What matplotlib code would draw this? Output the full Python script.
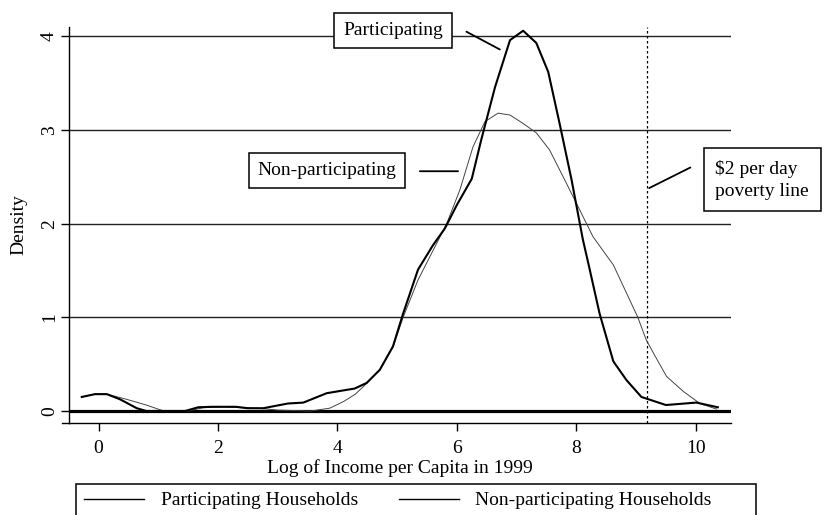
import matplotlib
matplotlib.use('Agg')
import matplotlib.pyplot as plt
from matplotlib.lines import Line2D
from matplotlib.patches import Rectangle

plt.rcParams['font.family'] = ['Liberation Serif', 'DejaVu Serif']

# density of log income, participating households
part_x = [-0.28, -0.06, 0.14, 0.36, 0.64, 0.80, 1.45, 1.67, 1.90, 2.30, 2.50, 2.76,
          3.17, 3.43, 3.82, 4.10, 4.29, 4.49, 4.71, 4.93, 5.10, 5.35, 5.60, 5.80,
          6.00, 6.25, 6.41, 6.64, 6.89, 7.11, 7.33, 7.53, 7.72, 7.92, 8.11, 8.20,
          8.39, 8.62, 8.84, 9.09, 9.50, 10.01, 10.37]
part_y = [0.15, 0.18, 0.18, 0.125, 0.03, 0.0, 0.0, 0.04, 0.045, 0.045, 0.03, 0.03,
          0.08, 0.09, 0.19, 0.22, 0.24, 0.30, 0.44, 0.69, 1.04, 1.51, 1.77, 1.95,
          2.20, 2.48, 2.90, 3.46, 3.96, 4.06, 3.93, 3.62, 3.07, 2.47, 1.83, 1.58,
          1.04, 0.53, 0.33, 0.15, 0.064, 0.09, 0.04]

# density of log income, non-participating households
nonp_x = [-0.28, -0.06, 0.14, 0.47, 0.80, 1.00, 1.10, 1.50, 1.75, 2.08, 2.75, 3.00,
          3.55, 3.87, 4.10, 4.30, 4.50, 4.71, 4.93, 5.10, 5.35, 5.55, 5.83, 6.05,
          6.27, 6.47, 6.69, 6.89, 7.11, 7.33, 7.55, 7.78, 8.00, 8.28, 8.62, 8.84,
          9.03, 9.17, 9.29, 9.51, 9.79, 10.07, 10.35]
nonp_y = [0.15, 0.18, 0.18, 0.125, 0.064, 0.02, 0.0, 0.0, 0.035, 0.045, 0.025, 0.01,
          0.0, 0.03, 0.10, 0.18, 0.30, 0.44, 0.68, 1.00, 1.40, 1.65, 2.00, 2.36,
          2.82, 3.09, 3.18, 3.16, 3.07, 2.97, 2.79, 2.50, 2.22, 1.86, 1.56, 1.26,
          1.00, 0.76, 0.62, 0.37, 0.21, 0.08, 0.02]

poverty_line = 9.18
x_ticks = [0, 2, 4, 6, 8, 10]
y_ticks = [0, 1, 2, 3, 4]
legend_labels = ['Participating Households', 'Non-participating Households']

fig = plt.figure(figsize=(8.25, 5.15), dpi=100)
ax = fig.add_axes([69/825, 1 - 423/515, 662/825, 396/515])

for yv in y_ticks[1:]:
    ax.axhline(yv, color='#222222', lw=1.0, zorder=1)
ax.axhline(0, color='black', lw=2.3, zorder=2)
ax.axvline(poverty_line, color='black', lw=0.9, ls=(0, (2, 2)), zorder=2)

ax.plot(nonp_x, nonp_y, color='#444444', lw=0.7, zorder=3)
ax.plot(part_x, part_y, color='black', lw=1.5, zorder=4)

ax.set_xlim(-0.494, 10.59)
ax.set_ylim(-0.128, 4.10)
ax.set_xticks(x_ticks)
ax.set_yticks(y_ticks)
ax.set_yticklabels([str(v) for v in y_ticks], rotation=90, va='center')
ax.tick_params(axis='both', labelsize=14, length=6, width=1.0, color='black')
ax.tick_params(axis='y', pad=2)
ax.tick_params(axis='x', pad=6)
for s in ['top', 'right']:
    ax.spines[s].set_visible(False)
for s in ['left', 'bottom']:
    ax.spines[s].set_linewidth(1.0)
ax.plot([-0.011, 0], [0, 0], color='black', lw=1.0, transform=ax.transAxes, clip_on=False)

ax.set_xlabel('Log of Income per Capita in 1999', fontsize=14, labelpad=2)
ax.set_ylabel('Density', fontsize=14, labelpad=10)

# boxed annotations with connector lines
ax.text(4.93, 4.06, 'Participating', fontsize=14, ha='center', va='center',
        bbox=dict(boxstyle='square,pad=0.45', fc='white', ec='black', lw=1.1), zorder=5)
ax.annotate('', xy=(6.72, 3.86), xytext=(6.16, 4.05),
            arrowprops=dict(arrowstyle='-', color='black', lw=1.3, shrinkA=0, shrinkB=0))

ax.text(3.83, 2.57, 'Non-participating', fontsize=14, ha='center', va='center',
        bbox=dict(boxstyle='square,pad=0.45', fc='white', ec='black', lw=1.1), zorder=5)
ax.annotate('', xy=(6.02, 2.56), xytext=(5.38, 2.56),
            arrowprops=dict(arrowstyle='-', color='black', lw=1.3, shrinkA=0, shrinkB=0))

ax.text(10.33, 2.47, '$2 per day\npoverty line', fontsize=14, ha='left', va='center',
        linespacing=1.4, clip_on=False,
        bbox=dict(boxstyle='square,pad=0.6', fc='white', ec='black', lw=1.1), zorder=5)
ax.annotate('', xy=(9.22, 2.38), xytext=(9.91, 2.60),
            arrowprops=dict(arrowstyle='-', color='black', lw=1.3, shrinkA=0, shrinkB=0))

handles = [Line2D([], [], color='black', lw=1.0), Line2D([], [], color='black', lw=1.0)]
fig.legend(handles, legend_labels, ncol=2, loc='upper left',
           bbox_to_anchor=(76/825, 1 - 484/515), frameon=False, fontsize=14,
           borderaxespad=0, borderpad=0.4, handlelength=3.1, handletextpad=0.85,
           columnspacing=2.1)
fig.patches.append(Rectangle((76/825, -0.05), 680/825, (515 - 484)/515 + 0.05,
                             transform=fig.transFigure, fill=False, ec='black', lw=1.1))

fig.savefig('out.png', dpi=100)
